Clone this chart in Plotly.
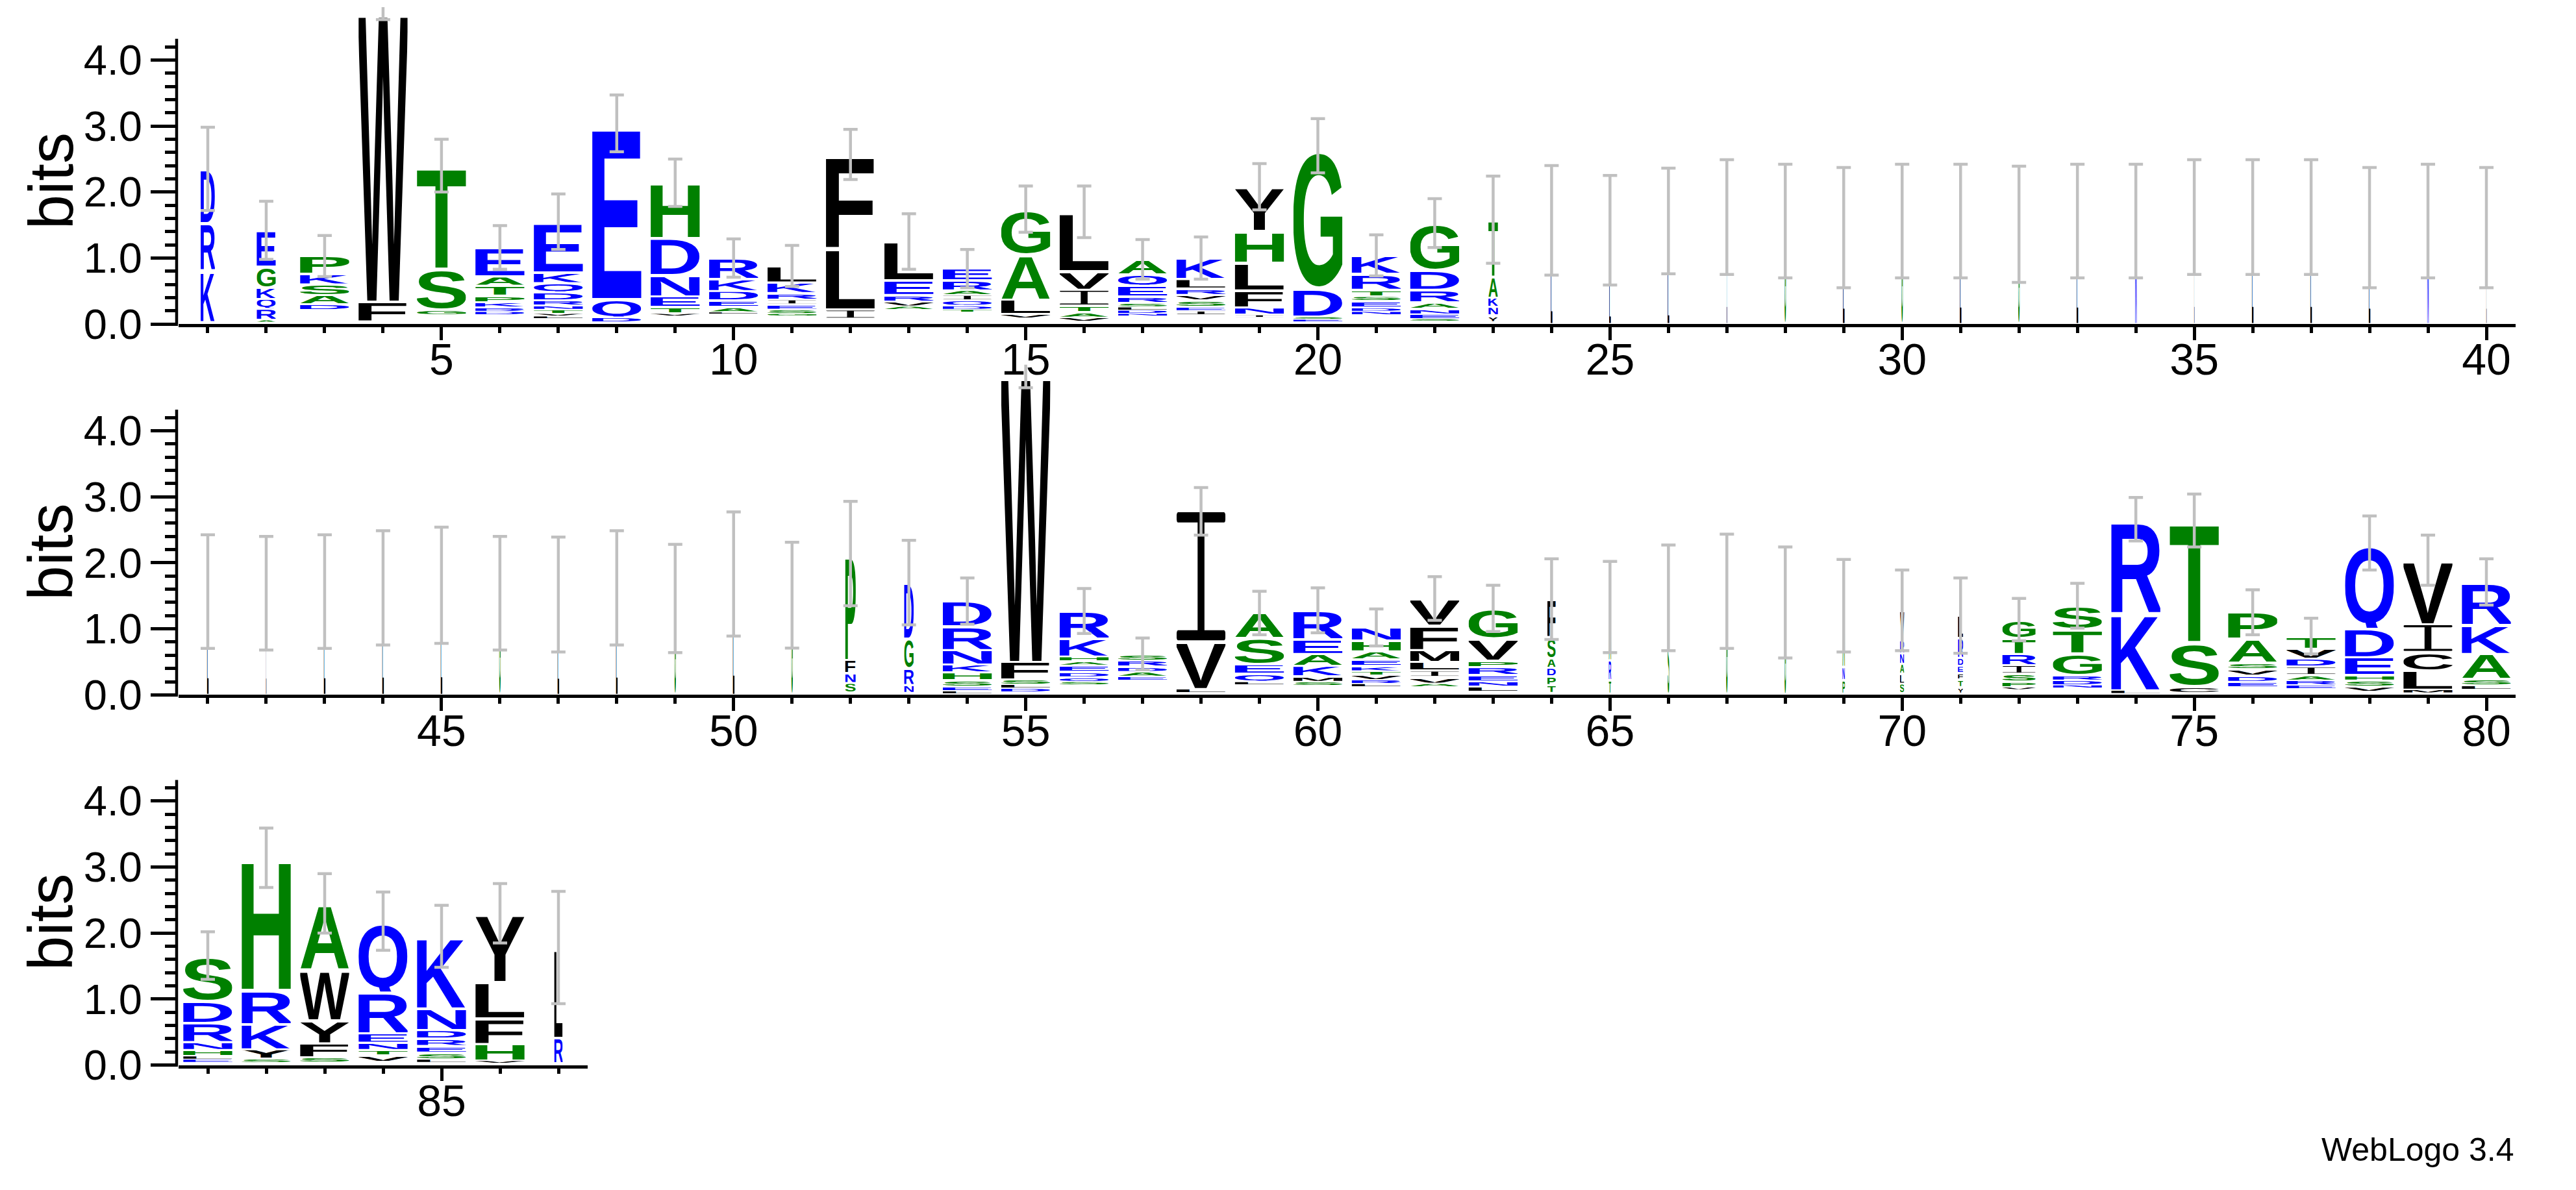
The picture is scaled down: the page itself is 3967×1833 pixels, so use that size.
import base64
import plotly.graph_objects as go

# ---------------- data ----------------
row1_positions = list(range(1, 41))
row2_positions = list(range(41, 81))
row3_positions = list(range(81, 88))

# letters of each stack, bottom -> top
row1_letters = ["KRD", "ARQKGE", "DASKP", "FW", "GST", "DRKPTAE", "LVTNRDQKE", "DQE",
                "VTENDH", "LAEDKR", "GSEIRKL", "ILF", "AVREL", "TDQIARE", "VLAG",
                "VATIVL", "NDLSREQA", "IESVRLK", "INFLHY", "ESDG", "NDESTRK", "SENARDG",
                "YNKAT", "LG", "LN", "LN", "L", "G", "L", "G", "L", "G", "L", "N", "L",
                "L", "L", "L", "N", "L"]
row1_heights = [
    [0.78, 0.72, 0.82], [0.03, 0.17, 0.15, 0.17, 0.32, 0.55], [0.09, 0.14, 0.16, 0.16, 0.27],
    [0.30, 4.50], [0.08, 0.62, 1.56], [0.05, 0.06, 0.08, 0.10, 0.15, 0.14, 0.44],
    [0.04, 0.04, 0.06, 0.06, 0.08, 0.12, 0.14, 0.16, 0.77], [0.07, 0.28, 2.66],
    [0.04, 0.10, 0.16, 0.32, 0.56, 0.84], [0.03, 0.08, 0.10, 0.14, 0.18, 0.32],
    [0.04, 0.06, 0.08, 0.07, 0.10, 0.16, 0.25], [0.14, 0.93, 1.42],
    [0.05, 0.07, 0.10, 0.22, 0.59], [0.04, 0.06, 0.08, 0.08, 0.07, 0.15, 0.18],
    [0.06, 0.22, 0.68, 0.69], [0.06, 0.08, 0.10, 0.24, 0.28, 0.90],
    [0.04, 0.05, 0.05, 0.06, 0.10, 0.16, 0.17, 0.23], [0.06, 0.06, 0.10, 0.08, 0.10, 0.14, 0.32],
    [0.04, 0.11, 0.26, 0.42, 0.48, 0.67], [0.04, 0.04, 0.42, 2.17],
    [0.05, 0.06, 0.10, 0.07, 0.10, 0.24, 0.28], [0.04, 0.07, 0.08, 0.10, 0.19, 0.29, 0.72],
    [0.10, 0.13, 0.14, 0.31, 0.87], [1.20, 0.37], [0.70, 0.72], [0.80, 0.76], [1.62], [1.56],
    [1.46], [1.56], [1.56], [1.51], [1.56], [1.56], [1.62], [1.62], [1.62], [1.46], [1.56], [1.46]]
row1_base = [0.03, 0.03, 0.21, 0.04, 0.14, 0.14, 0.08, 0.03, 0.12, 0.15, 0.12, 0.08, 0.22, 0.18,
             0.09, 0.04, 0.12, 0.14, 0.10, 0.03, 0.14, 0.04, 0.03] + [0.0] * 17
row1_error = [0.63, 0.44, 0.31, 0.23, 0.40, 0.33, 0.42, 0.43, 0.36, 0.29, 0.31, 0.38, 0.42, 0.29,
              0.35, 0.39, 0.30, 0.32, 0.35, 0.41, 0.31, 0.37, 0.66, 0.83, 0.83, 0.80, 0.87, 0.86,
              0.91, 0.86, 0.86, 0.88, 0.86, 0.86, 0.87, 0.87, 0.87, 0.91, 0.86, 0.91]
row1_occupancy = [0.27, 0.36] + [0.93] * 20 + [0.18] + [0.035, 0.035, 0.035, 0.012] + [0.035] * 7 + \
                 [0.012, 0.035, 0.035, 0.035, 0.035, 0.012]

row2_letters = ["L", "L", "L", "L", "L", "G", "L", "L", "G", "L", "G", "SNFP", "NRGD",
                "LESHKNRD", "DLSFW", "SQDEAHKR", "EADRS", "LVI", "LQESA", "SMKAER",
                "LRVTKEAHN", "AVILMFV", "LNERPVG", "TPDASF", "TRA", "SN", "G", "GL", "PNA",
                "SLANRV", "YTFEDRL", "VPSIRTG", "NDRGTS", "LKR", "CST", "EDVSAP", "ERAIDVT",
                "VSHEDQ", "MLCIV", "LSAKR"]
row2_heights = [
    [1.565], [1.54], [1.565], [1.62], [1.66], [1.54], [1.52], [1.62], [1.46], [1.83], [1.51],
    [0.15, 0.15, 0.20, 1.61], [0.12, 0.25, 0.45, 0.85],
    [0.04, 0.06, 0.10, 0.12, 0.12, 0.22, 0.36, 0.38], [0.06, 0.06, 0.07, 0.27, 4.45],
    [0.05, 0.07, 0.08, 0.10, 0.06, 0.07, 0.27, 0.42], [0.06, 0.07, 0.08, 0.09, 0.10],
    [0.06, 0.72, 1.97], [0.05, 0.12, 0.14, 0.40, 0.38], [0.06, 0.08, 0.16, 0.18, 0.22, 0.44],
    [0.05, 0.06, 0.07, 0.06, 0.08, 0.10, 0.12, 0.16, 0.20],
    [0.05, 0.10, 0.10, 0.13, 0.18, 0.37, 0.41], [0.08, 0.07, 0.10, 0.12, 0.10, 0.33, 0.46],
    [0.12, 0.13, 0.13, 0.14, 0.32, 0.58], [0.20, 0.30, 0.81], [1.00, 0.47], [1.57], [1.30, 0.10],
    [0.20, 0.20, 0.93], [0.15, 0.15, 0.15, 0.16, 0.20, 0.45],
    [0.10, 0.11, 0.10, 0.11, 0.12, 0.30, 0.34], [0.04, 0.08, 0.12, 0.13, 0.17, 0.24, 0.28],
    [0.05, 0.07, 0.08, 0.33, 0.36, 0.36], [0.05, 1.17, 1.42], [0.10, 0.67, 1.84],
    [0.08, 0.09, 0.10, 0.10, 0.36, 0.40], [0.06, 0.07, 0.08, 0.13, 0.12, 0.15, 0.19],
    [0.07, 0.10, 0.08, 0.27, 0.43, 1.30], [0.05, 0.29, 0.28, 0.42, 0.97],
    [0.06, 0.10, 0.38, 0.44, 0.65]]
row2_base = [0.0] * 11 + [0.03, 0.03, 0.02, 0.04, 0.15, 0.22, 0.03, 0.15, 0.14, 0.12, 0.12, 0.05,
                          0.03, 0.02, 0.0, 0.0, 0.0, 0.02, 0.02, 0.02, 0.08, 0.10, 0.02, 0.03,
                          0.12, 0.09, 0.05, 0.03, 0.08]
row2_error = [0.86, 0.86, 0.86, 0.865, 0.88, 0.86, 0.87, 0.865, 0.82, 0.94, 0.80, 0.79, 0.64,
              0.35, 0.30, 0.34, 0.24, 0.36, 0.33, 0.34, 0.28, 0.33, 0.35, 0.61, 0.69, 0.80,
              0.865, 0.84, 0.70, 0.61, 0.57, 0.32, 0.34, 0.33, 0.40, 0.34, 0.27, 0.41, 0.38, 0.35]
row2_occupancy = [0.035, 0.015] + [0.035] * 9 + [0.20, 0.18] + [0.93] * 10 + [0.16, 0.05, 0.035,
                  0.035, 0.035, 0.05, 0.08, 0.10, 0.63] + [0.93] * 8

row3_letters = ["ELHNRDS", "SYKRH", "SFYWA", "VTNERQ", "LSERDNK", "VHFLY", "RL"]
row3_heights = [[0.05, 0.05, 0.09, 0.12, 0.29, 0.33, 0.69], [0.06, 0.14, 0.38, 0.52, 2.00],
                [0.08, 0.21, 0.35, 0.77, 1.00], [0.10, 0.08, 0.11, 0.14, 0.62, 1.08],
                [0.05, 0.10, 0.10, 0.11, 0.13, 0.33, 1.09], [0.04, 0.25, 0.39, 0.55, 1.04],
                [0.38, 1.37]]
row3_base = [0.04, 0.04, 0.04, 0.05, 0.04, 0.03, 0.03]
row3_error = [0.36, 0.45, 0.45, 0.44, 0.47, 0.45, 0.85]
row3_occupancy = [0.93] * 6 + [0.16]

y_tick_values = [0, 1, 2, 3, 4]
y_minor_values = [0.2, 0.4, 0.6, 0.8, 1.2, 1.4, 1.6, 1.8, 2.2, 2.4, 2.6, 2.8,
                  3.2, 3.4, 3.6, 3.8, 4.2]
BITS_MAX = 4.32

# ---------------- styles ----------------
BLUE, GREEN, BLACK = "#0000FF", "#008000", "#000000"
COLOR = {}
for c in "RKDENQ":
    COLOR[c] = BLUE
for c in "SGHTAP":
    COLOR[c] = GREEN
for c in "YVMCLFIW":
    COLOR[c] = BLACK

# ink bounding boxes (1000-unit em) of bold sans capitals
GLYPH_BOX = {
    'A': (20, 0, 702, 718), 'C': (44, -19, 684, 737), 'D': (76, 0, 685, 718),
    'E': (76, 0, 621, 718), 'F': (76, 0, 587, 718), 'G': (44, -19, 713, 737),
    'H': (71, 0, 651, 718), 'K': (87, 0, 722, 718), 'L': (76, 0, 583, 718),
    'M': (69, 0, 765, 718), 'N': (69, 0, 654, 718), 'P': (76, 0, 627, 718),
    'Q': (44, -52, 737, 737), 'R': (76, 0, 677, 718), 'S': (39, -19, 629, 737),
    'T': (14, 0, 598, 718), 'V': (24, 0, 653, 718), 'W': (16, 0, 929, 718),
    'Y': (15, 0, 653, 718),
}
_cache = {}


def glyph_uri(ch):
    if ch in _cache:
        return _cache[ch]
    col = COLOR[ch]
    if ch == 'I':
        body = (f'<rect x="0" y="0" width="100" height="8" rx="3" fill="{col}"/>'
                f'<rect x="0" y="92" width="100" height="8" rx="3" fill="{col}"/>'
                f'<rect x="43" y="4" width="14" height="92" fill="{col}"/>')
        vb, w, h = "0 0 100 100", 100, 100
    else:
        x0, y0, x1, y1 = GLYPH_BOX[ch]
        body = (f'<text x="0" y="0" font-family="Liberation Sans, Arial, Helvetica, sans-serif" '
                f'font-weight="700" font-size="1000" fill="{col}">{ch}</text>')
        w, h = x1 - x0, y1 - y0
        vb = f"{x0} {-y1} {w} {h}"
    svg = (f'<svg xmlns="http://www.w3.org/2000/svg" viewBox="{vb}" width="{w}" height="{h}" '
           f'preserveAspectRatio="none">{body}</svg>')
    uri = "data:image/svg+xml;base64," + base64.b64encode(svg.encode()).decode()
    _cache[ch] = uri
    return uri


COL_W = 0.9
PAD = 0.03

fig = go.Figure()
images = []

rows = [
    (row1_positions, row1_letters, row1_heights, row1_base, row1_error, row1_occupancy, "x", "y"),
    (row2_positions, row2_letters, row2_heights, row2_base, row2_error, row2_occupancy, "x2", "y2"),
    (row3_positions, row3_letters, row3_heights, row3_base, row3_error, row3_occupancy, "x3", "y3"),
]

for pos_list, letters, heights, bases, errs, occ, xr, yr in rows:
    tops = []
    for p, lets, hs, b, o in zip(pos_list, letters, heights, bases, occ):
        cum = b
        w = COL_W * o
        for ch, h in zip(lets, hs):
            pad = min(PAD, 0.3 * h)
            images.append(dict(
                source=glyph_uri(ch), xref=xr, yref=yr,
                x=p - w / 2, y=cum + pad / 2, sizex=w, sizey=h - pad,
                xanchor="left", yanchor="bottom", sizing="stretch", layer="below"))
            cum += h
        tops.append(cum)
    fig.add_trace(go.Scatter(
        x=pos_list, y=tops, mode="markers", xaxis=xr, yaxis=yr,
        marker=dict(size=1, color="rgba(0,0,0,0)"),
        error_y=dict(type="data", array=errs, visible=True, color="#C0C0C0",
                     thickness=4.5, width=11),
        hoverinfo="skip", showlegend=False))

fig.update_layout(images=images)

FONT = "Liberation Sans, Arial, Helvetica, sans-serif"
W_PX, H_PX = 3967, 1833
PX_PER_BIT = 104
x_full = [267 / W_PX, 3866 / W_PX]
x_short = [267 / W_PX, 897 / W_PX]
row_bottom_px = [499, 1083, 1666]
row_range_top = [4.8, 5.0, BITS_MAX]
y_doms = [[1 - b / H_PX, min(1.0, 1 - (b - t * PX_PER_BIT) / H_PX)]
          for b, t in zip(row_bottom_px, row_range_top)]

common_x = dict(showline=True, linecolor="black", linewidth=4.5, ticks="outside", ticklen=20,
                tickwidth=4.5, tickcolor="black", tick0=0, dtick=5, showgrid=False,
                zeroline=False, tickfont=dict(family=FONT, size=68, color="black"),
                ticklabelstandoff=-28,
                minor=dict(ticks="outside", ticklen=9, tickwidth=4.5, tickcolor="black",
                           tick0=0, dtick=1, showgrid=False))
common_y = dict(showline=False, ticks="outside", ticklen=42,
                tickwidth=4.5, tickcolor="black", tickmode="array", tickvals=y_tick_values,
                ticktext=[f"{v:.1f}" for v in y_tick_values],
                showgrid=False, zeroline=False,
                tickfont=dict(family=FONT, size=65, color="black"),
                minor=dict(ticks="outside", ticklen=20, tickwidth=4.5, tickcolor="black",
                           tickmode="array", tickvals=y_minor_values, showgrid=False))

fig.update_layout(
    width=W_PX, height=H_PX, margin=dict(l=0, r=0, t=0, b=0),
    paper_bgcolor="white", plot_bgcolor="rgba(0,0,0,0)", showlegend=False,
    xaxis=dict(common_x, domain=x_full, range=[0.5, 40.5], anchor="y"),
    yaxis=dict(common_y, domain=y_doms[0], range=[0, row_range_top[0]], anchor="x"),
    xaxis2=dict(common_x, domain=x_full, range=[40.5, 80.5], anchor="y2"),
    yaxis2=dict(common_y, domain=y_doms[1], range=[0, row_range_top[1]], anchor="x2"),
    xaxis3=dict(common_x, domain=x_short, range=[80.5, 87.5], anchor="y3"),
    yaxis3=dict(common_y, domain=y_doms[2], range=[0, row_range_top[2]], anchor="x3"),
)

# y axis lines stop at the maximum information content (log2 20 bits)
shapes = []
for yr in ["y", "y2", "y3"]:
    shapes.append(dict(type="line", xref="paper", yref=yr, x0=264 / W_PX, x1=264 / W_PX,
                       y0=0, y1=BITS_MAX, line=dict(color="black", width=4.5), layer="above"))
fig.update_layout(shapes=shapes)

annotations = []
for d in y_doms:
    mid = 1 - ((1 - d[0]) * H_PX - BITS_MAX * PX_PER_BIT / 2) / H_PX
    annotations.append(dict(text="bits", xref="paper", yref="paper", x=70 / W_PX,
                            y=mid, textangle=-90, showarrow=False,
                            xanchor="center", yanchor="middle",
                            font=dict(family=FONT, size=96, color="black")))
annotations.append(dict(text="WebLogo 3.4", xref="paper", yref="paper", x=3866 / W_PX,
                        y=1 - 1799 / H_PX, xanchor="right", yanchor="middle", showarrow=False,
                        font=dict(family=FONT, size=50, color="black")))
fig.update_layout(annotations=annotations)

fig.write_html("out.html")
